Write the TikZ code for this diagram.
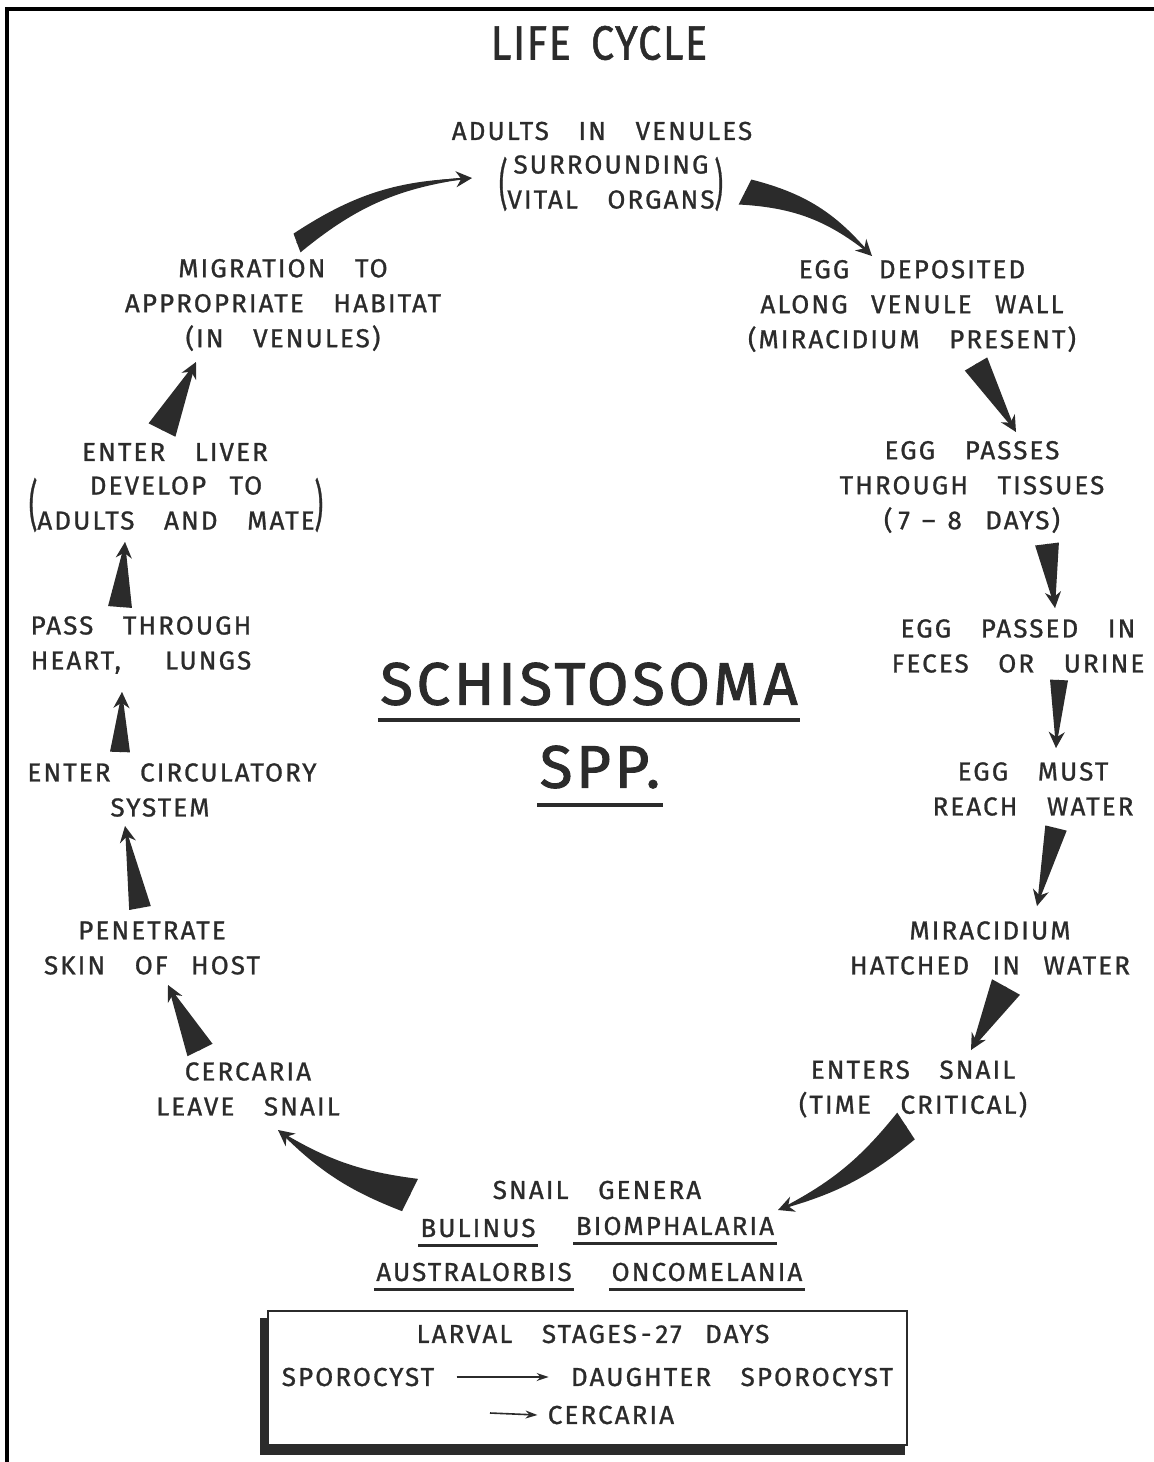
\documentclass[tikz,border=0pt]{standalone}
\usepackage{graphicx}
\usepackage{fontspec}
\setmainfont{Fira Sans}[LetterSpace=8,WordSpace=3.3,FakeBold=1.0]
\newfontfamily\bigfont{Fira Sans}[LetterSpace=6,WordSpace=2,FakeBold=1.6]
\newfontfamily\headfont{Fira Sans}[LetterSpace=4,WordSpace=1.6,FakeBold=1.2]
\usetikzlibrary{arrows.meta,calc}

\definecolor{ink}{gray}{0.17}
\newcommand{\lblsize}{\fontsize{13}{17.5}\selectfont}
\newcommand{\tallparen}[1]{$\vcenter{\hbox{\scalebox{1}[2.1]{#1}}}$}
\newcommand{\nsp}{\hspace{0.9em}}

% tapered arrow: [bend]{tail}{head}{half width at tail}
\newcommand{\taper}[4][0]{%
  \fill[taperfill] ($(#2)!#4!90:(#3)$) to[bend left=#1] (#3)
    to[bend right=#1] ($(#2)!#4!-90:(#3)$) -- cycle;
  \draw[taperline,-{Stealth[length=8pt,width=8pt]}] (#2) to[bend left=#1] (#3);
}

\begin{document}
\begin{tikzpicture}[x=0.5pt,y=0.5pt,
  lbl/.style={font=\lblsize, align=center, inner sep=1pt, text=ink},
  taperfill/.style={fill=ink},
  taperline/.style={draw=ink, line width=1pt},
  uline/.style={draw=ink, line width=1.5pt},
  thinarrow/.style={draw=ink, line width=0.8pt, -{Stealth[length=6pt,width=4pt]}}]

\useasboundingbox (0,0) rectangle (1154,-1462);

% ---------------- PAGE FRAME ----------------
\draw[line width=2pt] (7,-1462) -- (7,-9) -- (1154,-9);

% ---------------- TITLE ----------------
\node[lbl,font=\headfont\fontsize{24}{26}\selectfont] (title) at (599,-43)
  {\scalebox{0.86}[1]{LIFE CYCLE}};

% ---------------- STAGES (clockwise from top) ----------------
\node[lbl] (adults) at (602,-131) {ADULTS IN VENULES};
\node[lbl] (organs) at (611,-184)
  {\tallparen{(}\begin{tabular}{@{}c@{}}SURROUNDING\\VITAL ORGANS\end{tabular}\tallparen{)}};

\node[lbl] (eggdep) at (912,-306)
  {EGG DEPOSITED\\ALONG\nsp VENULE\nsp WALL\\(MIRACIDIUM PRESENT)};
\node[lbl] (eggpass) at (972,-487)
  {EGG PASSES\\THROUGH TISSUES\\(\kern3pt7\kern6pt--\kern6pt8\nsp DAYS)};
\node[lbl] (feces) at (1018,-646) {EGG PASSED IN\\FECES OR URINE};
\node[lbl] (water) at (1033,-789) {EGG MUST\\REACH WATER};
\node[lbl] (mirac) at (990,-948) {MIRACIDIUM\\HATCHED\nsp IN\nsp WATER};
\node[lbl] (enters) at (913,-1089) {ENTERS SNAIL\\(TIME CRITICAL)};

% snail genera
\node[lbl] (genera) at (597,-1190) {SNAIL GENERA};
\node[lbl] (bul) at (478,-1228) {BULINUS};
\node[lbl] (bio) at (675,-1226) {BIOMPHALARIA};
\node[lbl] (aus) at (474,-1272) {AUSTRALORBIS};
\node[lbl] (onc) at (707,-1272) {ONCOMELANIA};
\foreach \g in {bul,bio,aus,onc}
  \draw[uline] ([yshift=-3pt]\g.south west) -- ([yshift=-3pt]\g.south east);

\node[lbl] (cerc) at (248,-1089) {CERCARIA\\LEAVE SNAIL};
\node[lbl] (pene) at (152,-948) {PENETRATE\\SKIN OF\nsp HOST};
\node[lbl] (circ) at (172,-790) {ENTER CIRCULATORY\\SYSTEM\hspace*{12pt}};
\node[lbl] (heart) at (141,-645) {PASS THROUGH\\HEART,\hspace{1.7em}LUNGS};
\node[lbl] (liver) at (175,-452) {ENTER LIVER};
\node[lbl] (mate) at (176,-505)
  {\tallparen{(}\begin{tabular}{@{}c@{}}DEVELOP\nsp TO\\ADULTS AND MATE\end{tabular}\tallparen{)}};
\node[lbl] (migr) at (283,-305)
  {MIGRATION TO\\APPROPRIATE HABITAT\\(IN VENULES)};

% ---------------- CENTRE NAME ----------------
\node[lbl,font=\bigfont\fontsize{30}{32}\selectfont] (schisto) at (589,-684) {SCHISTOSOMA};
\node[lbl,font=\bigfont\fontsize{30}{32}\selectfont] (spp) at (600,-767) {SPP.};
\draw[ink,line width=2pt] ([yshift=-6pt]schisto.south west) -- ([yshift=-6pt]schisto.south east);
\draw[ink,line width=2pt] ([yshift=-7pt]spp.south west) -- ([yshift=-7pt]spp.south east);

% ---------------- TAPERED ARROWS ----------------
\coordinate (t1) at (297,-243);  \coordinate (h1) at (472,-178);
\coordinate (t2) at (745,-192);  \coordinate (h2) at (872,-256);
\coordinate (t3) at (976,-364);  \coordinate (h3) at (1016,-432);
\coordinate (t4) at (1047,-544); \coordinate (h4) at (1055,-608);
\coordinate (t5) at (1059,-680); \coordinate (h5) at (1056,-748);
\coordinate (t6) at (1056,-828); \coordinate (h6) at (1037,-906);
\coordinate (t7) at (1006,-987); \coordinate (h7) at (971,-1050);
\coordinate (t8) at (906,-1126); \coordinate (h8) at (778,-1210);
\coordinate (t9) at (410,-1195); \coordinate (h9) at (278,-1130);
\coordinate (t10) at (200,-1050); \coordinate (h10) at (168,-985);
\coordinate (t11) at (140,-908); \coordinate (h11) at (125,-826);
\coordinate (t12) at (120,-752); \coordinate (h12) at (122,-692);
\coordinate (t13) at (120,-607); \coordinate (h13) at (125,-542);
\coordinate (t14) at (162,-430); \coordinate (h14) at (196,-362);

\taper[16]{t1}{h1}{5pt}
\taper[18]{t2}{h2}{7pt}
\taper{t3}{h3}{6.5pt}
\taper{t4}{h4}{6pt}
\taper{t5}{h5}{4.5pt}
\taper{t6}{h6}{5.5pt}
\taper{t7}{h7}{8pt}
\taper[12]{t8}{h8}{8pt}
\taper[12]{t9}{h9}{9pt}
\taper{t10}{h10}{7pt}
\taper{t11}{h11}{5.5pt}
\taper{t12}{h12}{5pt}
\taper{t13}{h13}{6pt}
\taper{t14}{h14}{7.5pt}

% ---------------- LARVAL STAGES BOX ----------------
\fill[ink] (260,-1318) rectangle (905,-1455);
\draw[ink,fill=white,line width=1pt] (268,-1311) rectangle (907,-1445);

\node[lbl] (larval) at (593,-1334) {LARVAL STAGES\kern2pt-\kern2pt27\nsp DAYS};
\node[lbl] (spor) at (358,-1377) {SPOROCYST};
\node[lbl] (daughter) at (732,-1377) {DAUGHTER SPOROCYST};
\node[lbl] (cercb) at (611,-1415) {CERCARIA};
\coordinate (cstart) at (490,-1413);
\draw[thinarrow] ([xshift=10pt]spor.east) -- ([xshift=-10pt]daughter.west);
\draw[thinarrow] (cstart) -- ([xshift=-4pt]cercb.west);

\end{tikzpicture}
\end{document}
